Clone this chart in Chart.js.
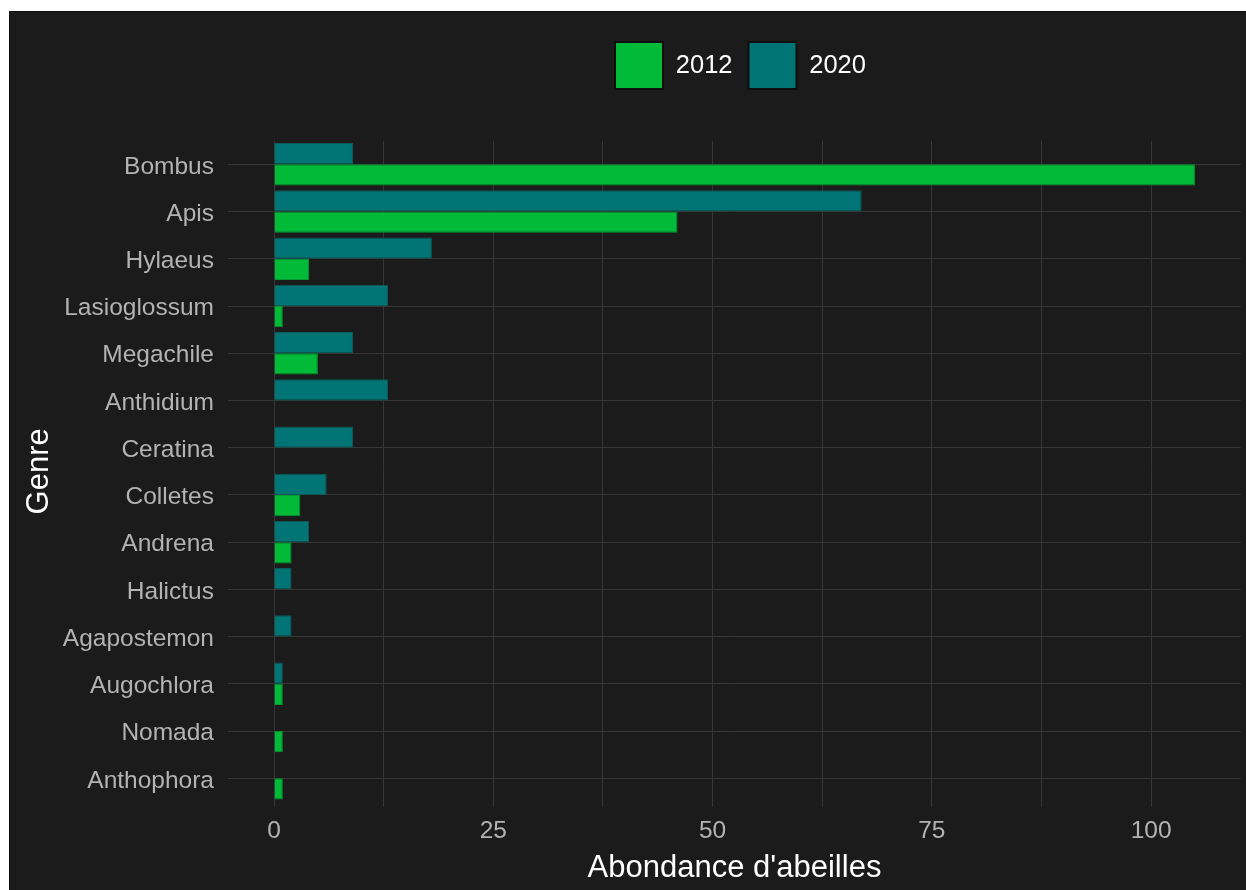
<!DOCTYPE html>
<html>
<head>
<meta charset="utf-8">
<script src="https://cdn.jsdelivr.net/npm/chart.js@4"></script>
<style>
  html, body { margin: 0; padding: 0; background: #ffffff; }
  #panel { position: absolute; left: 9px; top: 11px; width: 1237px; height: 879px; background: #1b1b1b; box-shadow: inset 1px 1px 0 #0c0c0c; }
  canvas { display: block; }
</style>
</head>
<body>
<div id="panel"><canvas id="c" width="1237" height="879"></canvas></div>
<script>
const genres = ['Bombus','Apis','Hylaeus','Lasioglossum','Megachile','Anthidium','Ceratina','Colletes','Andrena','Halictus','Agapostemon','Augochlora','Nomada','Anthophora'];
const abundance2012 = [105, 46, 4, 1, 5, 0, 0, 3, 2, 0, 0, 1, 1, 1];
const abundance2020 = [9, 67, 18, 13, 9, 13, 9, 6, 4, 2, 2, 1, 0, 0];
const seriesLabels = ['2012', '2020'];
const xTickValues = [0, 12.5, 25, 37.5, 50, 62.5, 75, 87.5, 100];
const xLabeledTicks = [0, 25, 50, 75, 100];

const FONT = "'Liberation Sans', Arial, sans-serif";
const GREEN = '#00BA38';
const TEAL = '#017575';
const GRID = '#363636';

const legendLayout = {
  id: 'legendLayout',
  beforeInit(chart) {
    const lg = chart.legend;
    if (!lg || lg._patched) return;
    const fit = lg.fit;
    lg.fit = function () { fit.apply(this, arguments); this.height = 114.7; };
    lg._patched = true;
  },
  afterLayout(chart) {
    const lg = chart.legend;
    if (lg) { lg.left += 6; lg.right += 6; }
  }
};

new Chart(document.getElementById('c'), {
  type: 'bar',
  data: {
    labels: genres,
    datasets: [
      { label: seriesLabels[1], data: abundance2020, backgroundColor: TEAL, borderColor: '#0d5a5a', borderWidth: 1, categoryPercentage: 0.9, barPercentage: 1.0 },
      { label: seriesLabels[0], data: abundance2012, backgroundColor: GREEN, borderColor: '#009a2e', borderWidth: 1, categoryPercentage: 0.9, barPercentage: 1.0 }
    ]
  },
  plugins: [legendLayout],
  options: {
    indexAxis: 'y',
    responsive: false,
    animation: false,
    layout: { padding: { top: 15, right: 5, bottom: 0, left: 0 } },
    plugins: {
      tooltip: { enabled: false },
      legend: {
        position: 'top',
        fullSize: false,
        labels: {
          color: '#ffffff',
          font: { family: FONT, size: 25.5 },
          boxWidth: 48,
          boxHeight: 47,
          padding: 16,
          sort: (a, b) => b.datasetIndex - a.datasetIndex,
          generateLabels(chart) {
            const items = Chart.defaults.plugins.legend.labels.generateLabels(chart);
            return items.map(it => Object.assign(it, { strokeStyle: '#0d0d0d', lineWidth: 2, fontColor: '#ffffff' }));
          }
        }
      }
    },
    scales: {
      x: {
        type: 'linear',
        min: -5.25,
        max: 110.25,
        afterBuildTicks(scale) { scale.ticks = xTickValues.map(v => ({ value: v })); },
        afterFit(scale) { scale.height = 88.1; },
        grid: { color: GRID, lineWidth: 1, drawTicks: true, tickLength: 5, tickColor: GRID },
        border: { display: false },
        ticks: {
          color: '#b3b3b3',
          font: { family: FONT, size: 24.5 },
          padding: 10,
          autoSkip: false,
          maxRotation: 0,
          callback: v => (xLabeledTicks.includes(v) ? String(v) : '')
        },
        title: { display: true, text: "Abondance d'abeilles", color: '#ffffff', font: { family: FONT, size: 31 }, padding: { top: 0, bottom: 3.4 } }
      },
      y: {
        type: 'category',
        offset: true,
        afterFit(scale) { scale.width = 219; },
        grid: { color: GRID, lineWidth: 1, offset: false, drawTicks: false },
        border: { display: false },
        ticks: { color: '#b3b3b3', font: { family: FONT, size: 24.5 }, padding: 14, autoSkip: false, labelOffset: 2.5 },
        title: { display: true, text: 'Genre', color: '#ffffff', font: { family: FONT, size: 31 }, padding: { top: 11.4, bottom: 0 } }
      }
    }
  }
});
</script>
</body>
</html>
